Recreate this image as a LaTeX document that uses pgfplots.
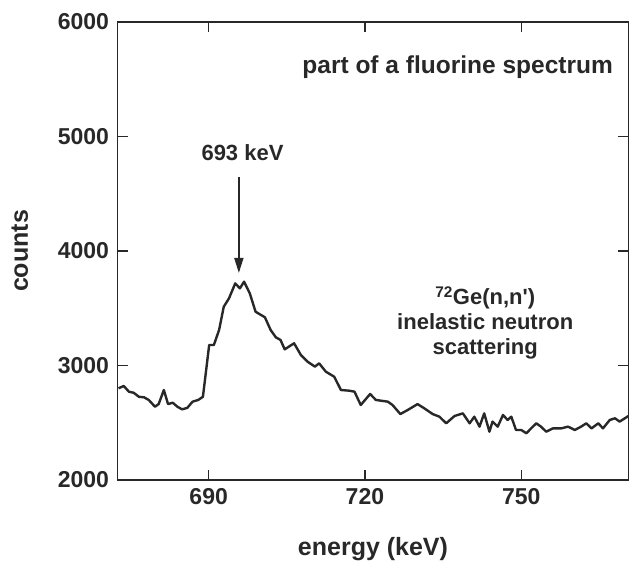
\documentclass[border=0pt]{standalone}
\usepackage{fontspec}
\setmainfont{Liberation Sans}
\usepackage{pgfplots}
\pgfplotsset{compat=1.18}
\usetikzlibrary{arrows.meta}

% gamma spectrum around the 693 keV line (energy in keV, counts per channel)
\pgfplotstableread{
E      C
672.7  2801
673.7  2821
674.7  2771
675.6  2762
676.6  2727
677.6  2722
678.5  2699
679.7  2640
680.4  2663
681.4  2786
682.2  2663
683.1  2675
684.0  2640
684.9  2617
685.9  2630
686.9  2684
688.0  2699
688.9  2727
690.1  3179
691.0  3179
692.0  3310
692.9  3513
693.9  3586
695.1  3717
696.0  3674
696.8  3732
697.9  3630
699.0  3470
700.8  3421
701.9  3310
702.9  3246
703.8  3223
704.6  3141
706.4  3194
707.7  3092
709.0  3033
710.4  2990
711.2  3019
712.5  2946
714.1  2902
715.4  2786
717.0  2780
718.0  2771
719.2  2655
721.0  2751
722.1  2699
724.4  2684
725.3  2655
726.8  2576
728.2  2611
730.1  2663
731.4  2626
733.0  2576
734.3  2553
735.6  2495
737.2  2559
738.8  2582
740.1  2495
741.0  2553
742.0  2466
742.9  2582
743.9  2422
744.5  2510
745.5  2466
746.5  2568
747.4  2524
748.1  2553
749.0  2437
750.0  2437
751.0  2408
751.9  2451
752.9  2495
753.8  2466
754.8  2422
756.1  2451
757.7  2451
759.0  2466
760.3  2437
761.5  2466
762.5  2495
763.5  2451
764.8  2495
765.7  2451
767.0  2524
768.0  2539
768.9  2510
769.9  2539
770.9  2568
}\spectrum

\definecolor{ink}{RGB}{40,40,40}

\begin{document}
\begin{tikzpicture}
\useasboundingbox (0,0) rectangle (629bp,562bp);
\begin{axis}[
  at={(117.5bp,82bp)}, anchor=south west,
  scale only axis, width=511bp, height=458bp,
  xmin=672.5, xmax=770.6, ymin=2000, ymax=6000,
  xtick={690,720,750}, ytick={2000,3000,4000,5000,6000},
  tick align=inside, major tick length=10bp,
  tick style={line width=1.2bp, ink},
  axis line style={line width=1.4bp, ink},
  /pgf/number format/assume math mode=true,
  /pgf/number format/1000 sep={},
  tick label style={font=\fontsize{23bp}{23bp}\selectfont\bfseries, text=ink},
  yticklabel style={xshift=-5bp},
  xticklabel style={yshift=-5bp},
  xlabel={energy (keV)}, ylabel={counts},
  label style={font=\fontsize{25bp}{25bp}\selectfont\bfseries, text=ink},
  xlabel style={at={(axis description cs:0.5,-0.151)}, anchor=center},
  ylabel style={at={(axis description cs:-0.191,0.5)}, anchor=center, rotate=0},
  clip=false,
]
\addplot[ink, line width=2.4bp, line join=round, mark=none] table[x=E, y=C] {\spectrum};

\node[font=\fontsize{24.5bp}{24.5bp}\selectfont\bfseries, text=ink] at (axis cs:737.8,5607) {part of a fluorine spectrum};
\node[font=\fontsize{22bp}{22bp}\selectfont\bfseries, text=ink] at (axis cs:696.5,4856) {693 keV};
\draw[ink, line width=1.6bp, -{Triangle[length=15bp, width=9bp]}] (axis cs:695.8,4646) -- (axis cs:695.8,3808);
\node[font=\fontsize{22bp}{25bp}\selectfont\bfseries, text=ink, align=center, anchor=north]
  at (axis cs:743.1,3720) {\textsuperscript{72}Ge(n,n\textquotesingle)\\inelastic neutron\\scattering};
\end{axis}
\end{tikzpicture}
\end{document}
